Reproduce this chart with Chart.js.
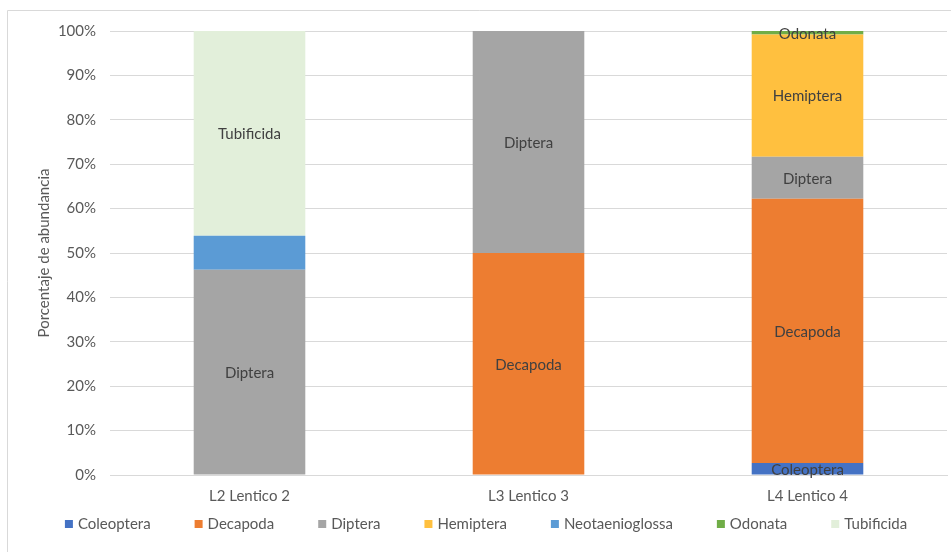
<!DOCTYPE html>
<html>
<head>
<meta charset="utf-8">
<script src="https://cdn.jsdelivr.net/npm/chart.js@4"></script>
<style>
  body { margin: 0; background: #fff; }
  #wrap { width: 951px; height: 552px; }
</style>
</head>
<body>
<div id="wrap"><canvas id="chart" width="951" height="552"></canvas></div>
<script>
const categories = ["L2 Lentico 2", "L3 Lentico 3", "L4 Lentico 4"];
const coleoptera = [0, 0, 2.7];
const decapoda = [0, 50, 59.5];
const diptera = [46.2, 50, 9.5];
const hemiptera = [0, 0, 27.5];
const neotaenioglossa = [7.7, 0, 0];
const odonata = [0, 0, 0.8];
const tubificida = [46.1, 0, 0];
const yTicks = [0, 10, 20, 30, 40, 50, 60, 70, 80, 90, 100];

const font = "Lato, 'Open Sans', sans-serif";

// labels drawn in the middle of each segment (not for the thin blue one, like the original)
const segmentLabels = {
    id: "segmentLabels",
    afterDatasetsDraw(chart) {
        const ctx = chart.ctx;
        ctx.save();
        ctx.font = "15px " + font;
        ctx.fillStyle = "#404040";
        ctx.textAlign = "center";
        ctx.textBaseline = "middle";
        chart.data.datasets.forEach((ds, i) => {
            if (ds.noLabel) return;
            const meta = chart.getDatasetMeta(i);
            meta.data.forEach((bar, j) => {
                if (!ds.data[j]) return;
                const mid = (bar.y + bar.base) / 2;
                ctx.fillText(ds.label, bar.x, mid + 1);
            });
        });
        ctx.restore();
    }
};

// light frame around the chart
const frame = {
    id: "frame",
    beforeDraw(chart) {
        const ctx = chart.ctx;
        ctx.save();
        ctx.strokeStyle = "#d9d9d9";
        ctx.lineWidth = 1;
        ctx.beginPath();
        ctx.moveTo(7.5, chart.height);
        ctx.lineTo(7.5, 10.5);
        ctx.lineTo(chart.width, 10.5);
        ctx.stroke();
        ctx.restore();
    }
};

// legend row under the axis (built-in legend ties row height to item spacing)
const bottomLegend = {
    id: "bottomLegend",
    afterDraw(chart) {
        const ctx = chart.ctx;
        const box = 8, gap = 5, spacing = 44, y = 524;
        ctx.save();
        ctx.font = "15px " + font;
        ctx.textBaseline = "middle";
        const items = chart.data.datasets.map(ds => ({ label: ds.label, color: ds.backgroundColor, w: ctx.measureText(ds.label).width }));
        const total = items.reduce((s, it) => s + box + gap + it.w, 0) + spacing * (items.length - 1);
        let x = 486 - total / 2;
        items.forEach(it => {
            ctx.fillStyle = it.color;
            ctx.fillRect(x, y - box / 2, box, box);
            ctx.fillStyle = "#595959";
            ctx.fillText(it.label, x + box + gap, y);
            x += box + gap + it.w + spacing;
        });
        ctx.restore();
    }
};

const mk = (label, data, color, noLabel) => ({
    label, data, backgroundColor: color, borderWidth: 0,
    barPercentage: 0.4, categoryPercentage: 1, noLabel: !!noLabel
});

new Chart(document.getElementById("chart"), {
    type: "bar",
    data: {
        labels: categories,
        datasets: [
            mk("Coleoptera", coleoptera, "#4472C4"),
            mk("Decapoda", decapoda, "#ED7D31"),
            mk("Diptera", diptera, "#A5A5A5"),
            mk("Hemiptera", hemiptera, "#FFC03F"),
            mk("Neotaenioglossa", neotaenioglossa, "#5B9BD5", true),
            mk("Odonata", odonata, "#70AD47"),
            mk("Tubificida", tubificida, "#E2EFDA")
        ]
    },
    plugins: [frame, segmentLabels, bottomLegend],
    options: {
        responsive: false,
        animation: false,
        layout: { padding: { left: 35, right: 4, top: 31, bottom: 42 } },
        plugins: {
            legend: { display: false },
            tooltip: { enabled: false }
        },
        scales: {
            x: {
                stacked: true,
                afterFit(scale) { scale.height = 35; },
                grid: { display: false, drawTicks: false },
                border: { color: "#d9d9d9" },
                ticks: { color: "#595959", font: { family: font, size: 15 }, padding: 12, autoSkip: false }
            },
            y: {
                stacked: true,
                min: 0, max: 100,
                afterBuildTicks(scale) { scale.ticks = yTicks.map(v => ({ value: v })); },
                afterFit(scale) { scale.width = 75; },
                grid: { color: "#d9d9d9", drawTicks: false },
                border: { display: false },
                ticks: {
                    color: "#595959", font: { family: font, size: 15 }, padding: 14,
                    callback: v => v + "%"
                },
                title: {
                    display: true, text: "Porcentaje de abundancia",
                    color: "#595959", font: { family: font, size: 15 }, padding: 0
                }
            }
        }
    }
});
</script>
</body>
</html>
